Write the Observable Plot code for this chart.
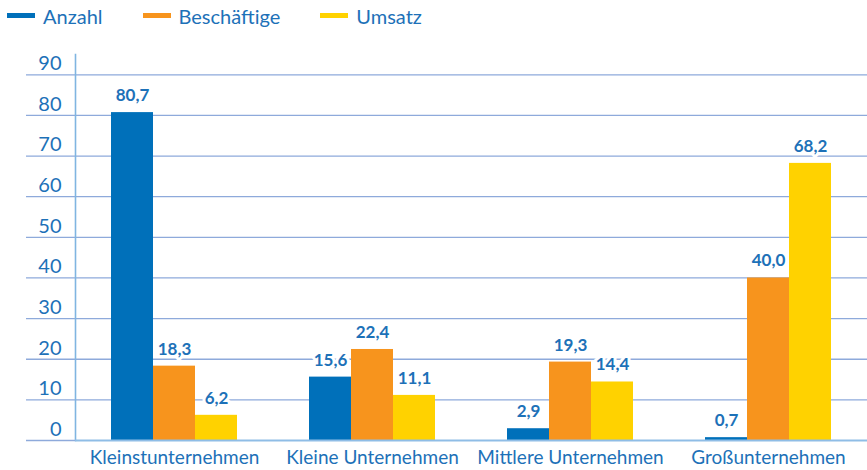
<!DOCTYPE html>
<html><head><meta charset="utf-8">
<script src="https://cdn.jsdelivr.net/npm/d3@7"></script>
<script src="https://cdn.jsdelivr.net/npm/@observablehq/plot@0.6"></script>
<style>
body{margin:0;background:#fff;font-family:Lato,sans-serif;}
#legend{display:flex;align-items:center;height:31px;padding-left:7px;}
.item{display:flex;align-items:center;margin-right:40px;color:#1d71b8;font-size:20px;}
.sw{width:28px;height:5px;margin-right:8px;}
#chart svg{display:block;}
</style></head><body>
<div id="legend"></div>
<div id="chart"></div>
<script>
const categories = ["Kleinstunternehmen", "Kleine Unternehmen", "Mittlere Unternehmen", "Großunternehmen"];
const series = ["Anzahl", "Beschäftige", "Umsatz"];
const anzahl = [80.7, 15.6, 2.9, 0.7];
const beschaeftigte = [18.3, 22.4, 19.3, 40.0];
const umsatz = [6.2, 11.1, 14.4, 68.2];
const yTicks = [0, 10, 20, 30, 40, 50, 60, 70, 80, 90];
const colors = ["#0070ba", "#f7941d", "#ffd200"];
const textColor = "#1d71b8";
const gridColor = "#8eaadb";

const seriesValues = [anzahl, beschaeftigte, umsatz];
const data = categories.flatMap((c, i) => series.map((s, j) => ({category: c, series: s, value: seriesValues[j][i]})));
const fmt = v => v.toFixed(1).replace(".", ",");

const legend = document.getElementById("legend");
series.forEach((s, j) => {
  const it = document.createElement("div");
  it.className = "item";
  const sw = document.createElement("div");
  sw.className = "sw";
  sw.style.background = colors[j];
  const t = document.createElement("span");
  t.textContent = s;
  it.appendChild(sw); it.appendChild(t);
  legend.appendChild(it);
});

const chart = Plot.plot({
  width: 867,
  height: 439,
  marginLeft: 75,
  marginRight: 0,
  marginTop: 23,
  marginBottom: 30,
  style: {fontFamily: "Lato, sans-serif", background: "white"},
  fx: {domain: categories, paddingInner: 0, paddingOuter: 0, label: null},
  x: {domain: series, paddingInner: 0, paddingOuter: 0.81, axis: null},
  y: {domain: [0, 95], label: null},
  color: {domain: series, range: colors},
  marks: [
    Plot.ruleY(yTicks.slice(1), {stroke: gridColor, strokeWidth: 1.3}),
    Plot.axisY({ticks: yTicks, tickSize: 49, stroke: gridColor, strokeWidth: 1.3, strokeOpacity: 1, label: null, tickFormat: () => ""}),
    Plot.text(yTicks, {y: d => d, text: d => String(d), frameAnchor: "left", facetAnchor: "left", textAnchor: "end", dx: -14, dy: -11, fontSize: 20, fill: textColor}),
    Plot.frame({anchor: "left", facetAnchor: "left", stroke: "#80b5e1", strokeWidth: 1.6}),
    Plot.barY(data, {fx: "category", x: "series", y: "value", fill: "series"}),
    Plot.ruleY([0], {stroke: "#8fbde6", strokeWidth: 2}),
    Plot.text(data, {fx: "category", x: "series", y: "value", text: d => fmt(d.value), dy: -17, fontWeight: "bold", fontSize: 17, fill: textColor, stroke: "white", strokeWidth: 6, paintOrder: "stroke"}),
    Plot.axisFx({anchor: "bottom", tickSize: 0, tickPadding: 10, fontSize: 19, fill: textColor, label: null})
  ]
});
document.getElementById("chart").appendChild(chart);
</script>
</body></html>
